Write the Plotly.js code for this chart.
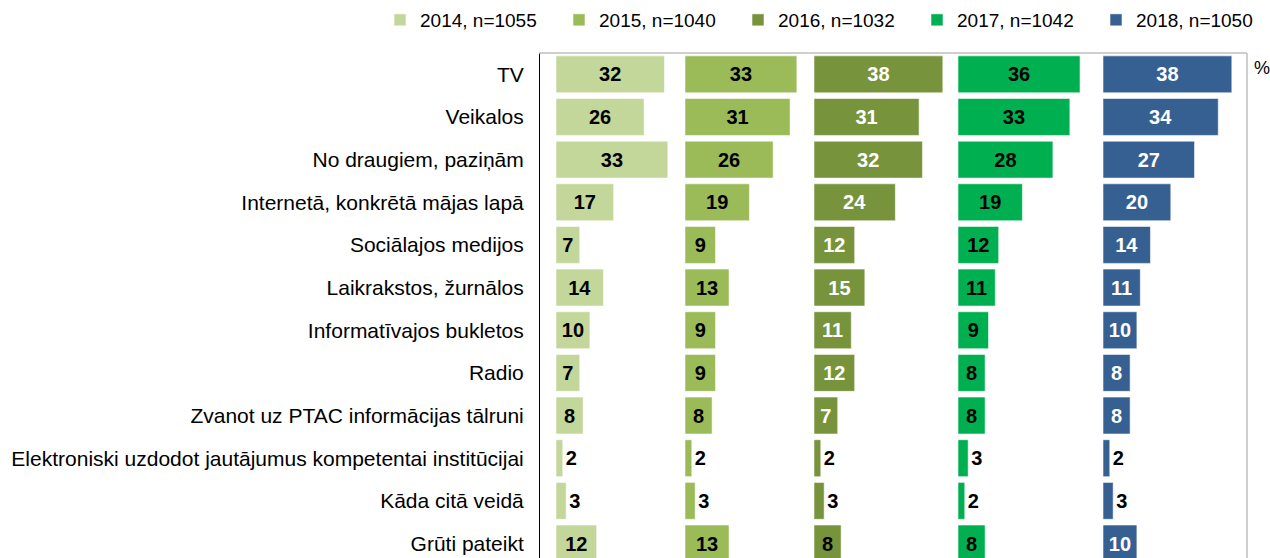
<!DOCTYPE html>
<html>
<head>
<meta charset="utf-8">
<script src="https://cdn.plot.ly/plotly-3.0.1.min.js"></script>
<style>html,body{margin:0;padding:0;background:#fff;}#chart{width:1270px;height:558px;}</style>
</head>
<body>
<div id="chart"></div>
<script>
// ---- data ----
const categories = ["TV","Veikalos","No draugiem, paziņām","Internetā, konkrētā mājas lapā","Sociālajos medijos","Laikrakstos, žurnālos","Informatīvajos bukletos","Radio","Zvanot uz PTAC informācijas tālruni","Elektroniski uzdodot jautājumus kompetentai institūcijai","Kāda citā veidā","Grūti pateikt"];
const seriesNames = ["2014, n=1055","2015, n=1040","2016, n=1032","2017, n=1042","2018, n=1050"];
const v2014 = [32,26,33,17,7,14,10,7,8,2,3,12];
const v2015 = [33,31,26,19,9,13,9,9,8,2,3,13];
const v2016 = [38,31,32,24,12,15,11,12,7,2,3,8];
const v2017 = [36,33,28,19,12,11,9,8,8,3,2,8];
const v2018 = [38,34,27,20,14,11,10,8,8,2,3,10];
const allValues = [v2014, v2015, v2016, v2017, v2018];

// ---- style ----
const FONT = '"Liberation Sans", Arial, sans-serif';
const colors = ['#C4D79B','#9BBB59','#77933C','#00B050','#376092'];
const insideColors = ['#000000','#000000','#FFFFFF','#000000','#FFFFFF'];
const plotL = 539, plotR = 1247, plotW = plotR - plotL;
const pxPerUnit = 3.39;
const panelStartPx = [556, 685, 814, 958, 1103];
const panelSpanUnits = [37.5, 37.5, 42, 42, 42];
const outsideBelow = 4;

const traces = [];
const layout = {
  width: 1270, height: 558,
  margin: {l: plotL, r: 1270 - plotR, t: 53, b: 0, pad: 0, autoexpand: false},
  paper_bgcolor: '#FFFFFF', plot_bgcolor: '#FFFFFF',
  font: {family: FONT, color: '#000000', size: 19},
  bargap: 0.134,
  showlegend: true,
  legend: {
    orientation: 'h', x: (380 - plotL) / plotW, xanchor: 'left',
    y: 1 + (53 - 20) / 505, yanchor: 'middle',
    font: {family: FONT, size: 19, color: '#000000'},
    entrywidth: 134, itemwidth: 30, bgcolor: 'rgba(0,0,0,0)'
  },
  yaxis: {
    type: 'category', categoryorder: 'array', categoryarray: categories,
    range: [11.34, -0.5], autorange: false, fixedrange: true,
    anchor: 'free', position: 0,
    showline: true, linecolor: '#000000', linewidth: 1,
    showgrid: false, zeroline: false, ticks: '',
    ticklabelstandoff: 11,
    tickfont: {family: FONT, size: 21, color: '#000000'}
  },
  shapes: [
    {type: 'line', xref: 'paper', yref: 'paper', x0: 0, x1: 1, y0: 1, y1: 1, line: {color: '#BFBFBF', width: 1.5}},
    {type: 'line', xref: 'paper', yref: 'paper', x0: 1, x1: 1, y0: 0, y1: 1, line: {color: '#BFBFBF', width: 1.5}}
  ],
  annotations: [
    {xref: 'paper', yref: 'paper', x: (1262 - plotL) / plotW, y: 1 - (68 - 53) / 505,
     xanchor: 'center', yanchor: 'middle', showarrow: false, text: '%',
     font: {family: FONT, size: 18, color: '#000000'}}
  ]
};

allValues.forEach((vals, i) => {
  const axName = i === 0 ? 'xaxis' : 'xaxis' + (i + 1);
  const axRef = i === 0 ? 'x' : 'x' + (i + 1);
  const d0 = (panelStartPx[i] - plotL) / plotW;
  const d1 = (panelStartPx[i] + panelSpanUnits[i] * pxPerUnit - plotL) / plotW;
  layout[axName] = {
    domain: [d0, Math.min(d1, 1)], range: [0, panelSpanUnits[i]], anchor: 'y',
    visible: false, showgrid: false, zeroline: false, fixedrange: true
  };
  const pos = vals.map(v => v < outsideBelow ? 'outside' : 'inside');
  let inCols = vals.map(() => insideColors[i]);
  if (i === 2) inCols[inCols.length - 1] = '#000000';
  traces.push({
    type: 'bar', orientation: 'h', name: seriesNames[i],
    x: vals, y: categories, xaxis: axRef, yaxis: 'y',
    marker: {color: colors[i], line: {color: 'rgba(255,255,255,0.55)', width: 1}},
    text: vals.map(String), textposition: pos,
    insidetextanchor: 'middle', constraintext: 'none', cliponaxis: false,
    textfont: {family: FONT, size: 20, weight: 'bold', color: inCols},
    insidetextfont: {family: FONT, size: 20, weight: 'bold', color: inCols},
    outsidetextfont: {family: FONT, size: 20, weight: 'bold', color: '#000000'},
    hoverinfo: 'skip'
  });
});

Plotly.newPlot('chart', traces, layout, {staticPlot: true, displayModeBar: false});
</script>
</body>
</html>
